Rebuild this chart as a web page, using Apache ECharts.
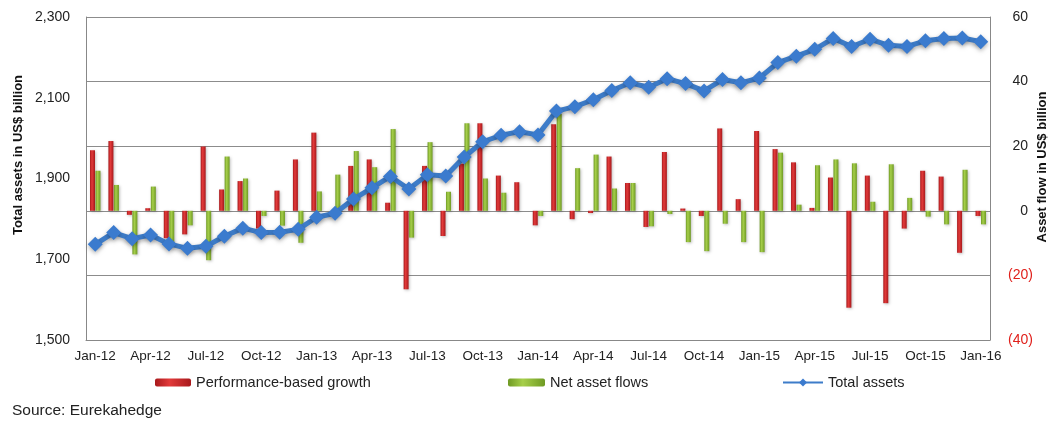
<!DOCTYPE html>
<html>
<head>
<meta charset="utf-8">
<script src="https://cdn.jsdelivr.net/npm/echarts@6/dist/echarts.min.js"></script>
<style>
  html, body { margin: 0; padding: 0; background: #fff; }
  #chart { width: 1054px; height: 422px; }
</style>
</head>
<body>
<div id="chart"></div>
<script>
// months Jan-12 .. Jan-16
const months = [
  "Jan-12", "Feb-12", "Mar-12", "Apr-12", "May-12", "Jun-12", "Jul-12", "Aug-12", "Sep-12", "Oct-12", "Nov-12", "Dec-12",
  "Jan-13", "Feb-13", "Mar-13", "Apr-13", "May-13", "Jun-13", "Jul-13", "Aug-13", "Sep-13", "Oct-13", "Nov-13", "Dec-13",
  "Jan-14", "Feb-14", "Mar-14", "Apr-14", "May-14", "Jun-14", "Jul-14", "Aug-14", "Sep-14", "Oct-14", "Nov-14", "Dec-14",
  "Jan-15", "Feb-15", "Mar-15", "Apr-15", "May-15", "Jun-15", "Jul-15", "Aug-15", "Sep-15", "Oct-15", "Nov-15", "Dec-15",
  "Jan-16"
];

// US$ bn, right axis
const perfGrowth = [
  18.75, 21.6, -1.25, 0.8, -8.5, -7.3, 19.9, 6.6, 9.2, -5.5, 6.25, 15.9,
  24.2, 0, 13.9, 15.9, 2.5, -24.3, 13.9, -7.8, 14.6, 27.1, 10.9, 8.85,
  -4.5, 26.8, -2.6, -0.7, 16.8, 8.6, -5, 18.2, 0.7, -1.6, 25.5, 3.6,
  24.7, 19.1, 15.0, 0.9, 10.3, -30, 10.9, -28.6, -5.5, 12.4, 10.6, -13,
  -1.6
];
const netFlows = [
  12.4, 8.0, -13.5, 7.5, -10, -4.5, -15.3, 16.8, 10.0, -1.6, -4.6, -9.9,
  6.0, 11.2, 18.5, 13.5, 25.3, -8.3, 21.25, 5.9, 27.1, 10.0, 5.6, 0,
  -1.6, 30, 13.2, 17.4, 6.9, 8.6, -4.8, -1.0, -9.7, -12.5, -4.0, -9.7,
  -12.8, 18.0, 1.9, 14.1, 15.9, 14.7, 2.8, 14.4, 4.0, -1.8, -4.2, 12.7,
  -4.2
];

// US$ bn, left axis
const totalAssets = [
  1737, 1766, 1751, 1760, 1738, 1727, 1732, 1757, 1777, 1766, 1767, 1774,
  1804, 1814, 1849, 1877, 1905, 1874, 1909, 1906, 1953, 1991, 2007, 2016,
  2008, 2067, 2078, 2095, 2118, 2137, 2126, 2147, 2135, 2117, 2145, 2137,
  2149, 2187, 2203, 2220, 2247, 2227, 2245, 2230, 2227, 2241, 2247, 2248,
  2239
];

const font = "'Liberation Sans', Arial, sans-serif";

function barGrad(light, dark) {
  return new echarts.graphic.LinearGradient(0, 0, 1, 0, [
    { offset: 0, color: dark },
    { offset: 0.4, color: light },
    { offset: 1, color: dark }
  ]);
}

const legendText = { fontSize: 14.5, color: "#222", fontFamily: font };

const dom = echarts.init(document.getElementById("chart"));

const option = {
  animation: false,
  textStyle: { fontFamily: font },
  grid: { left: 86, right: 64, top: 17, bottom: 82, outerBoundsMode: "none" },
  legend: [
    {
      data: ["Performance-based growth"],
      left: 155, top: 375, padding: 0,
      itemWidth: 36, itemHeight: 8, itemGap: 4,
      textStyle: legendText
    },
    {
      data: ["Net asset flows"],
      left: 508, top: 375, padding: 0,
      itemWidth: 37, itemHeight: 8,
      textStyle: legendText
    },
    {
      data: ["Total assets"],
      left: 782, top: 375, padding: 0,
      itemWidth: 40, itemHeight: 10,
      textStyle: legendText
    }
  ],
  graphic: [
    {
      type: "text",
      left: 12, top: 403,
      style: { text: "Source: Eurekahedge", font: "15.5px " + font, fill: "#222" }
    },
    {
      type: "text",
      x: 18, y: 155, rotation: Math.PI / 2,
      style: {
        text: "Total assets in US$ billion", font: "bold 13px " + font,
        fill: "#111", align: "center", verticalAlign: "middle"
      }
    },
    {
      type: "text",
      x: 1042, y: 167, rotation: Math.PI / 2,
      style: {
        text: "Asset flow in US$ billion", font: "bold 13px " + font,
        fill: "#111", align: "center", verticalAlign: "middle"
      }
    }
  ],
  xAxis: {
    type: "category",
    data: months,
    boundaryGap: true,
    axisLine: { onZero: false, lineStyle: { color: "#888" } },
    axisTick: { interval: 2, length: 5, lineStyle: { color: "#888" } },
    axisLabel: { interval: 2, color: "#222", fontSize: 13.5, margin: 9 },
    splitLine: { show: false }
  },
  yAxis: [
    {
      type: "value",
      min: 1500, max: 2300, interval: 200,
      axisLine: { show: true, lineStyle: { color: "#888" } },
      axisTick: { show: false },
      axisLabel: {
        color: "#222", fontSize: 14, margin: 16,
        formatter: v => v.toLocaleString("en-US")
      },
      splitLine: { show: false }
    },
    {
      type: "value",
      min: -40, max: 60, interval: 20,
      axisLine: { show: true, lineStyle: { color: "#888" } },
      axisTick: { show: false },
      axisLabel: {
        fontSize: 14, margin: 43, align: "right",
        formatter: v => (v < 0 ? "{neg|(" + Math.abs(v) + ")}" : "{pos|" + v + "}"),
        rich: {
          neg: { color: "#e0201b", fontSize: 14, fontFamily: font },
          pos: { color: "#222", fontSize: 14, fontFamily: font, padding: [0, 5, 0, 0] }
        }
      },
      splitLine: { show: true, lineStyle: { color: "#8c8c8c", width: 1 } }
    }
  ],
  series: [
    {
      name: "Performance-based growth",
      type: "bar",
      yAxisIndex: 1,
      data: perfGrowth,
      barWidth: 5,
      barGap: "10%",
      itemStyle: {
        color: barGrad("#e23a3a", "#a8191c"),
        shadowColor: "rgba(0,0,0,0.25)", shadowBlur: 3, shadowOffsetX: 1, shadowOffsetY: 1
      }
    },
    {
      name: "Net asset flows",
      type: "bar",
      yAxisIndex: 1,
      data: netFlows,
      barWidth: 5,
      itemStyle: {
        color: barGrad("#a6cf4a", "#6f9a24"),
        shadowColor: "rgba(0,0,0,0.25)", shadowBlur: 3, shadowOffsetX: 1, shadowOffsetY: 1
      }
    },
    {
      name: "Total assets",
      type: "line",
      yAxisIndex: 0,
      data: totalAssets,
      symbol: "diamond",
      symbolSize: 15,
      showAllSymbol: true,
      lineStyle: {
        color: "#3d7cc9", width: 5,
        shadowColor: "rgba(0,0,0,0.3)", shadowBlur: 4, shadowOffsetY: 2
      },
      itemStyle: {
        color: "#3b7bce",
        shadowColor: "rgba(0,0,0,0.3)", shadowBlur: 4, shadowOffsetY: 2
      },
      z: 5
    }
  ]
};

dom.setOption(option);
window.addEventListener("resize", () => dom.resize());
</script>
</body>
</html>
